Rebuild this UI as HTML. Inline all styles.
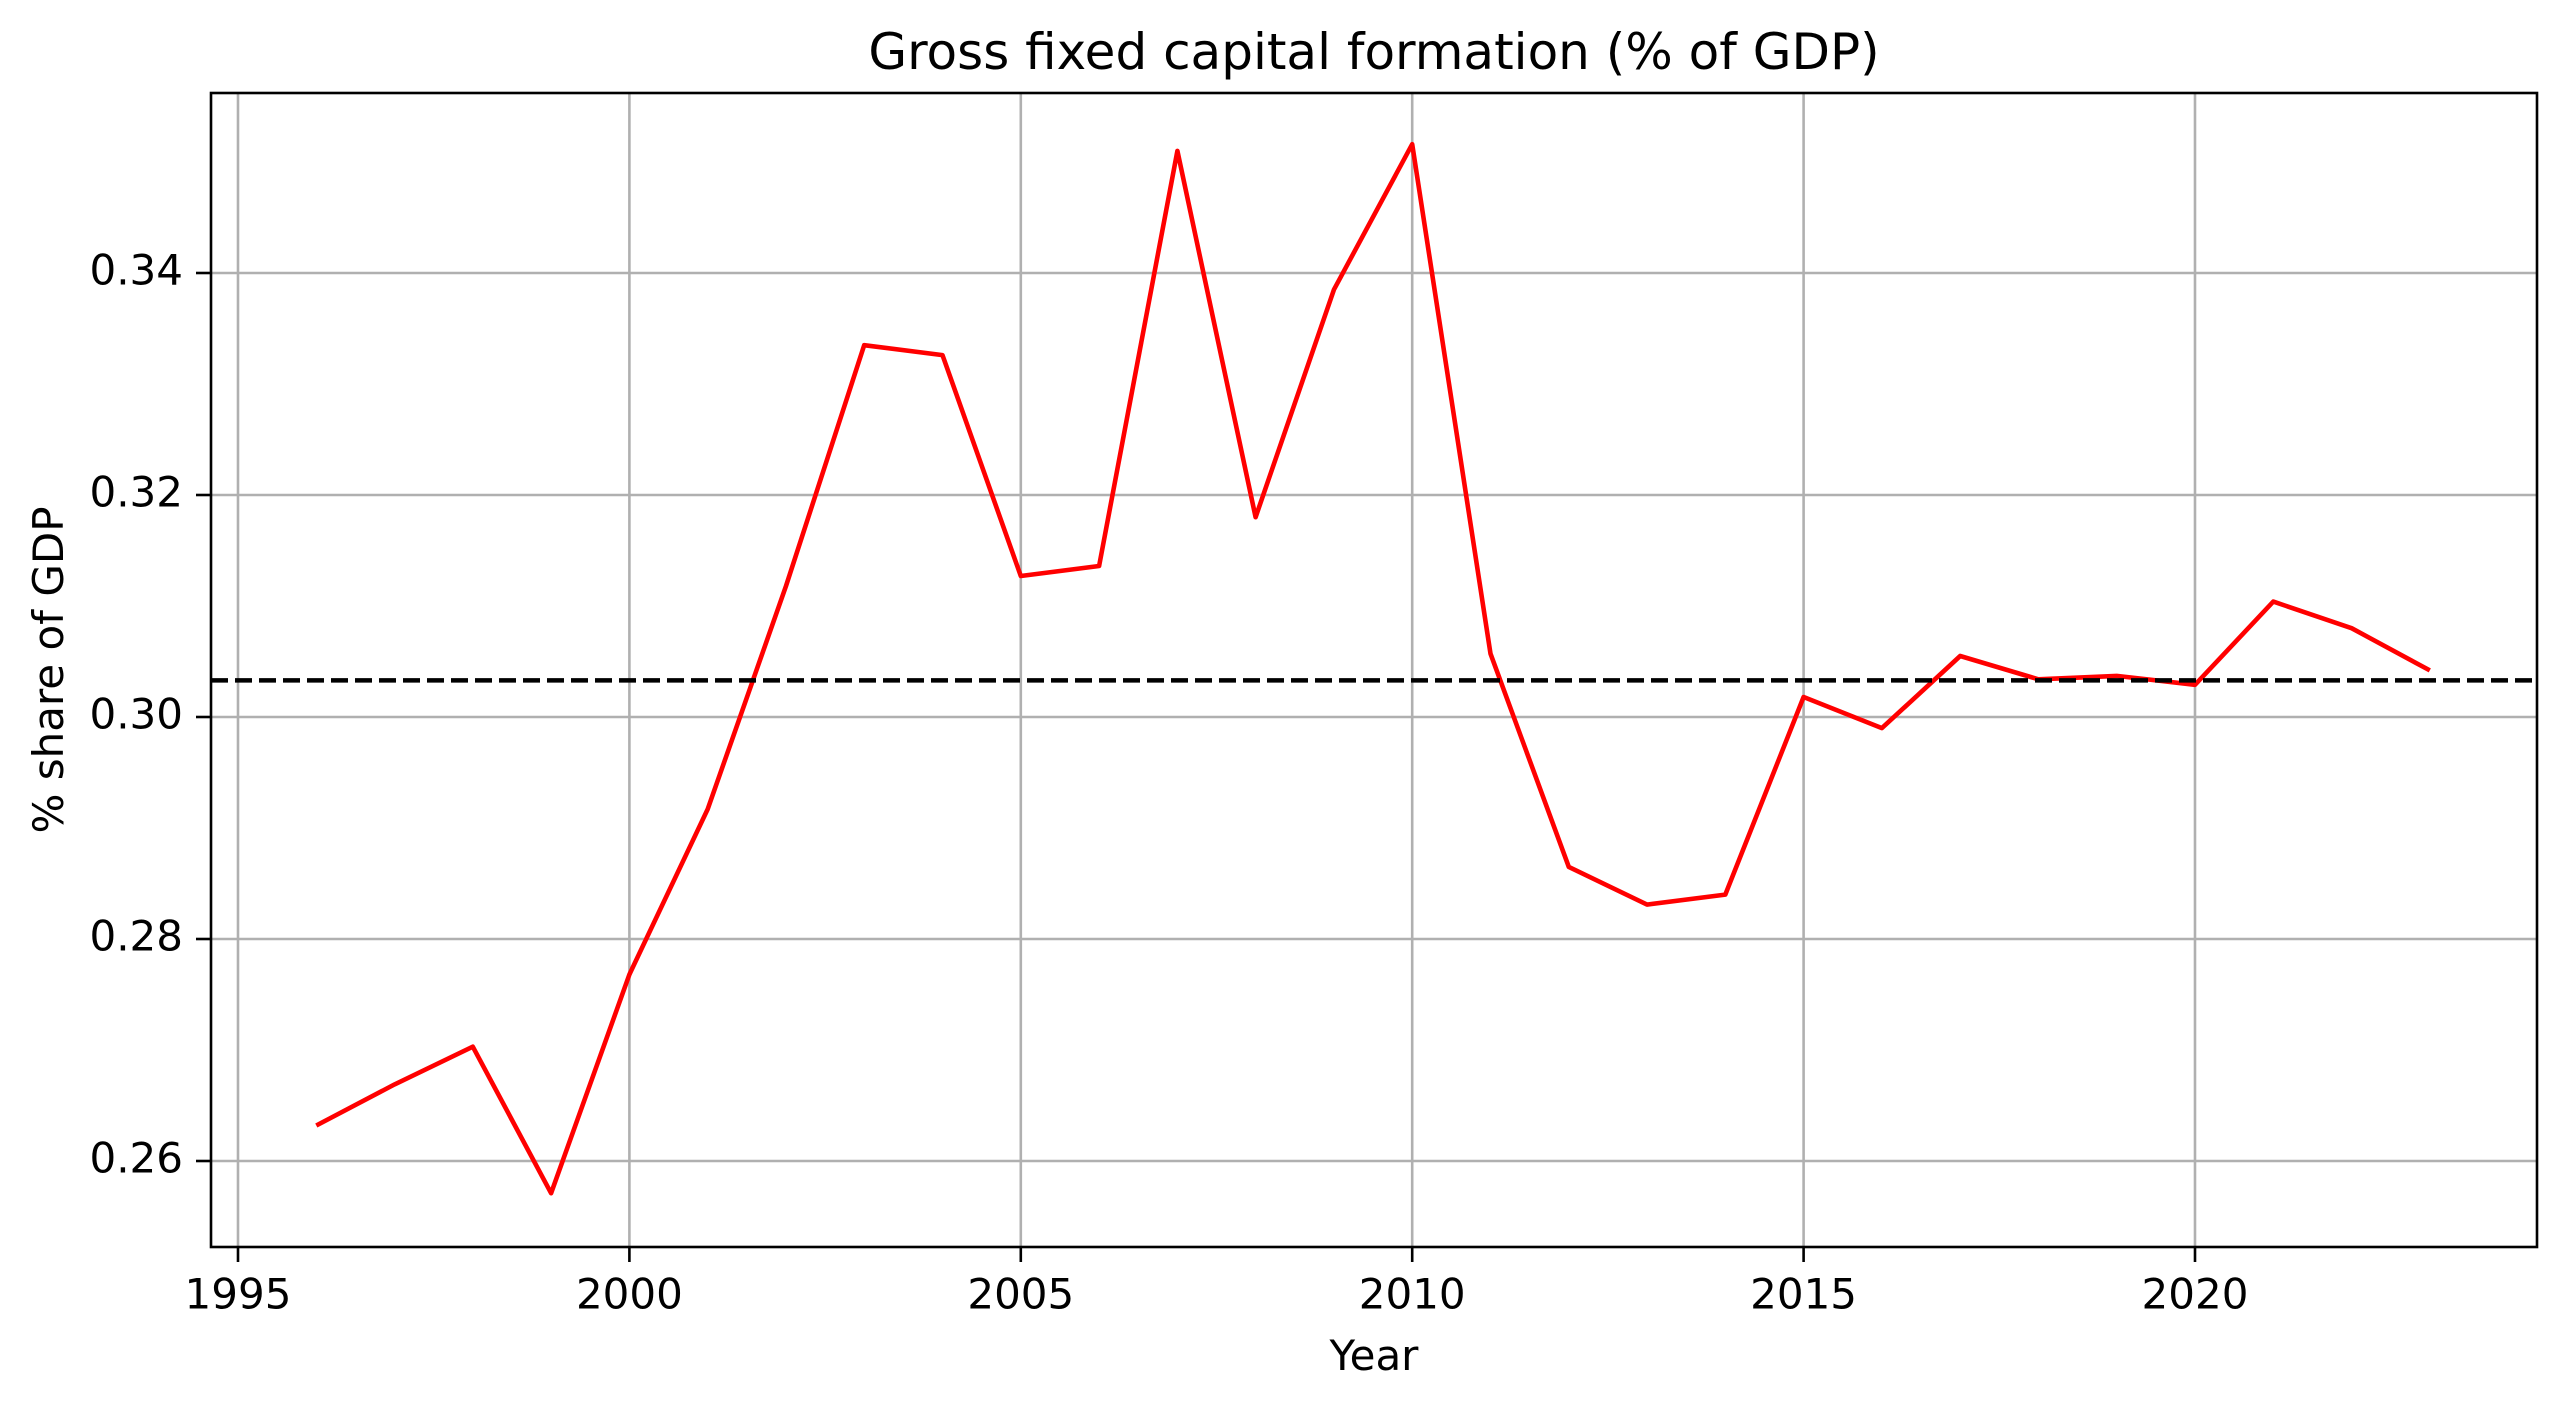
<!DOCTYPE html>
<html><head><meta charset="utf-8"><style>
html,body{margin:0;padding:0;background:#fff;}
svg{display:block;font-family:"DejaVu Sans","Liberation Sans",sans-serif;}
</style></head><body>
<svg id="chart" width="2565" height="1407" viewBox="0 0 2565 1407" xmlns="http://www.w3.org/2000/svg">
<rect width="2565" height="1407" fill="#fff"/>
<g id="grid"></g>
<g id="ticks"></g>
<g id="series"></g>
<rect x="211" y="93" width="2326" height="1154" fill="none" stroke="#000" stroke-width="2.6"/>
<text x="1374" y="69" font-size="50" text-anchor="middle">Gross fixed capital formation (% of GDP)</text>
<text x="1374" y="1370" font-size="42" text-anchor="middle">Year</text>
<text x="63" y="670" font-size="42" text-anchor="middle" transform="rotate(-90 63 670)">% share of GDP</text>
</svg>
<script>
const years = [1996,1997,1998,1999,2000,2001,2002,2003,2004,2005,2006,2007,2008,2009,2010,2011,2012,2013,2014,2015,2016,2017,2018,2019,2020,2021,2022,2023];
const values = [0.2632,0.2669,0.2703,0.2571,0.2768,0.2917,0.3118,0.3335,0.3326,0.3127,0.3136,0.3510,0.3180,0.3385,0.3516,0.3057,0.2865,0.2831,0.2840,0.3018,0.2990,0.3055,0.3034,0.3037,0.3029,0.3104,0.3080,0.3042];
const xTicks = [1995,2000,2005,2010,2015,2020];
const yTicks = [0.26,0.28,0.30,0.32,0.34];
const yTickLabels = ["0.26","0.28","0.30","0.32","0.34"];
const meanValue = 0.3033;

const NS="http://www.w3.org/2000/svg";
function X(v){return 238 + (v-1995)*78.28;}
function Y(v){return 273 + (0.34-v)/0.02*222;}
function mk(tag,attrs,parent){const e=document.createElementNS(NS,tag);for(const k in attrs)e.setAttribute(k,attrs[k]);parent.appendChild(e);return e;}
const grid=document.getElementById('grid'),ticks=document.getElementById('ticks'),series=document.getElementById('series');
xTicks.forEach(t=>{
  const x=X(t);
  const g=mk('line',{x1:x,x2:x,y1:93,y2:1247,stroke:'#b0b0b0','stroke-width':2.6},grid);
  
  
  const tk=mk('line',{x1:x,x2:x,y1:1247,y2:1262,stroke:'#000','stroke-width':2.6},ticks);
  
  
  const tx=mk('text',{x:x,y:1297,'font-size':42,'text-anchor':'middle','dominant-baseline':'middle'},ticks);
  tx.textContent=t;
  
  
});
yTicks.forEach((t,i)=>{
  const y=Y(t);
  const g=mk('line',{x1:211,x2:2537,y1:y,y2:y,stroke:'#b0b0b0','stroke-width':2.6},grid);
  
  
  const tk=mk('line',{x1:196,x2:211,y1:y,y2:y,stroke:'#000','stroke-width':2.6},ticks);
  
  
  const tx=mk('text',{x:183,y:y,'font-size':42,'text-anchor':'end','dominant-baseline':'middle'},ticks);
  tx.textContent=yTickLabels[i];
  
  
});
const pts=years.map((yr,i)=>X(yr).toFixed(1)+','+Y(values[i]).toFixed(1)).join(' ');
const line=mk('polyline',{points:pts,fill:'none',stroke:'#ff0000','stroke-width':4.6,'stroke-linejoin':'round'},series);


const my=Y(meanValue);
const ml=mk('line',{x1:211,x2:2537,y1:my,y2:my,stroke:'#000','stroke-width':4.4,'stroke-dasharray':'17,7'},series);


</script>
</body></html>
